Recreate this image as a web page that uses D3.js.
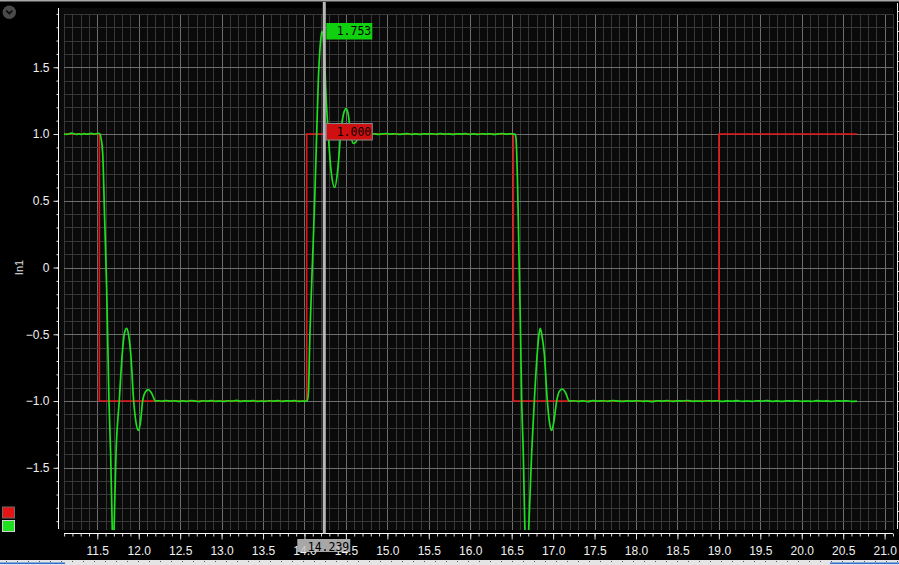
<!DOCTYPE html>
<html>
<head>
<meta charset="utf-8">
<script src="https://cdn.jsdelivr.net/npm/d3@7"></script>
<style>
  html, body { margin: 0; padding: 0; background: #000; overflow: hidden; }
  svg { display: block; }
  .tick text { font-family: "Liberation Sans", Arial, sans-serif; font-size: 12px; fill: #f0f0f0; }
  .mono { font-family: "DejaVu Sans Mono", monospace; font-size: 11.5px; fill: #000; }
</style>
</head>
<body>
<div id="chart"></div>
<script>
// input (red): square wave corners
const inputSteps = [[11.098, 1], [11.525, -1], [14.027, 1], [16.52, -1], [19.0, 1], [20.666, 1]];

// output (green), one array per stretch
const outHigh1 = [[11.098, 1.000], [11.13, 0.998], [11.16, 1.002], [11.19, 1.007], [11.22, 1.002], [11.25, 0.998],
  [11.28, 1.001], [11.31, 0.998], [11.34, 1.003], [11.37, 0.999], [11.40, 1.001], [11.43, 1.005], [11.46, 1.000],
  [11.49, 1.002], [11.515, 1.006], [11.533, 1.0]];
const outFall1 = [[11.545, 0.97], [11.565, 0.86], [11.589, 0.36], [11.613, -0.15], [11.641, -1.0], [11.661, -1.39],
  [11.681, -1.97], [11.692, -2.25], [11.701, -1.99], [11.726, -1.39], [11.765, -1.0], [11.802, -0.64], [11.828, -0.49],
  [11.855, -0.455], [11.879, -0.51], [11.903, -0.64], [11.939, -1.0], [11.967, -1.16], [11.995, -1.22], [12.021, -1.16],
  [12.047, -1.0], [12.082, -0.93], [12.115, -0.915], [12.154, -0.94], [12.205, -1.0]];
const outLow1 = [[12.24, -0.998], [12.28, -1.002], [12.33, -0.996], [12.38, -1.001], [12.43, -0.998], [12.48, -1.003],
  [12.53, -0.999], [12.58, -1.002], [12.63, -0.997], [12.68, -1.000], [12.73, -1.004], [12.78, -0.998], [12.83, -1.001],
  [12.88, -0.997], [12.93, -1.002], [12.98, -1.000], [13.03, -1.003], [13.08, -0.998], [13.13, -1.001], [13.18, -0.995],
  [13.23, -1.002], [13.28, -0.999], [13.33, -1.001], [13.38, -0.997], [13.43, -1.003], [13.48, -1.000], [13.53, -1.002],
  [13.58, -0.998], [13.63, -1.001], [13.68, -0.997], [13.73, -1.002], [13.78, -0.999], [13.83, -1.000], [13.88, -0.997],
  [13.93, -1.003], [13.98, -1.000], [14.02, -1.0]];
const outRise = [[14.034, -1.0], [14.048, -0.93], [14.066, -0.49], [14.094, 0.0], [14.123, 0.5], [14.147, 1.0],
  [14.167, 1.40], [14.187, 1.64], [14.211, 1.77], [14.235, 1.66], [14.259, 1.30], [14.287, 1.0], [14.320, 0.73],
  [14.365, 0.60], [14.401, 0.73], [14.437, 1.0], [14.471, 1.15], [14.504, 1.19], [14.530, 1.14], [14.557, 1.0],
  [14.591, 0.93], [14.621, 0.94], [14.658, 0.99], [14.694, 1.0]];
const outHigh2 = [[14.74, 1.002], [14.79, 0.998], [14.84, 1.002], [14.89, 0.997], [14.94, 1.001], [14.99, 1.004],
  [15.04, 0.999], [15.09, 1.002], [15.14, 0.998], [15.19, 1.000], [15.24, 1.003], [15.29, 0.998], [15.34, 1.001],
  [15.39, 0.997], [15.44, 1.002], [15.49, 1.000], [15.54, 1.002], [15.59, 0.998], [15.64, 1.004], [15.69, 0.999],
  [15.74, 1.001], [15.79, 0.997], [15.84, 1.002], [15.89, 1.000], [15.94, 1.003], [15.99, 0.998], [16.04, 1.001],
  [16.09, 0.998], [16.14, 1.002], [16.19, 0.999], [16.24, 1.002], [16.29, 0.997], [16.34, 1.001], [16.39, 1.004],
  [16.44, 0.999], [16.49, 1.002], [16.52, 1.0]];
const outFall2 = [[16.540, 1.0], [16.552, 0.97], [16.572, 0.60], [16.588, 0.10], [16.604, -0.39], [16.621, -1.0],
  [16.640, -1.39], [16.660, -1.97], [16.684, -2.25], [16.705, -1.97], [16.741, -1.39], [16.773, -1.0], [16.809, -0.64],
  [16.829, -0.50], [16.845, -0.455], [16.865, -0.51], [16.893, -0.64], [16.930, -1.0], [16.954, -1.15], [16.983, -1.22],
  [17.010, -1.15], [17.043, -1.0], [17.074, -0.93], [17.110, -0.91], [17.152, -0.94], [17.195, -1.0]];
const outLow2 = [[17.24, -0.998], [17.30, -1.002], [17.36, -0.999], [17.42, -1.004], [17.48, -0.997], [17.54, -1.001],
  [17.60, -0.998], [17.66, -1.002], [17.72, -0.996], [17.78, -1.000], [17.84, -1.003], [17.90, -0.999], [17.96, -1.001],
  [18.02, -0.998], [18.08, -1.002], [18.14, -1.000], [18.20, -1.004], [18.26, -0.998], [18.32, -1.001], [18.38, -0.997],
  [18.44, -1.002], [18.50, -0.999], [18.56, -1.000], [18.62, -0.996], [18.68, -1.002], [18.74, -1.000], [18.80, -1.002],
  [18.86, -0.998], [18.92, -1.001], [18.98, -0.998], [19.04, -1.003], [19.10, -0.999], [19.16, -1.001], [19.22, -0.997],
  [19.28, -1.002], [19.34, -1.000], [19.40, -1.002], [19.46, -0.998], [19.52, -1.000], [19.58, -0.996], [19.64, -1.002],
  [19.70, -0.999], [19.76, -1.003], [19.82, -0.998], [19.88, -1.001], [19.94, -0.998], [20.00, -1.002], [20.06, -1.000],
  [20.12, -1.002], [20.18, -0.997], [20.24, -1.001], [20.30, -0.999], [20.36, -1.002], [20.42, -0.998], [20.48, -1.000],
  [20.54, -0.998], [20.60, -1.002], [20.666, -1.0]];

const xTickLabels = [11.5, 12.0, 12.5, 13.0, 13.5, 14.0, 14.5, 15.0, 15.5, 16.0, 16.5, 17.0, 17.5, 18.0, 18.5, 19.0, 19.5, 20.0, 20.5, 21.0];
const yTickLabels = [-1.5, -1.0, -0.5, 0, 0.5, 1.0, 1.5];
const seriesNames = ["In1 input", "In1 output"];
const seriesColors = ["#e41414", "#1ee01e"];

const cursorTime = 14.239;
const cursorText = "14.239";
const markerValues = [1.753, 1.000];
const markerTexts = ["1.753", "1.000"];
const markerFills = ["#10d010", "#d01010"];

const width = 899, height = 565;
const plot = { left: 58, right: 893, top: 8, bottom: 530 };

const x = d3.scaleLinear().domain([11.026, 21.101]).range([plot.left, plot.right]);
const y = d3.scaleLinear().domain([-1.966, 1.944]).range([plot.bottom, plot.top]);

const isMajor = v => Math.abs(v * 2 - Math.round(v * 2)) < 1e-6;
const xMinor = d3.range(111, 212).map(i => i / 10);
const yMinor = d3.range(-19, 20).map(i => i / 10);

const svg = (
  d3.select("#chart")
  .append("svg")
  .attr("width", width)
  .attr("height", height)
);

svg.append("rect").attr("width", width).attr("height", height).attr("fill", "#000");
svg.append("rect")
  .attr("x", plot.left).attr("y", plot.top)
  .attr("width", plot.right - plot.left).attr("height", plot.bottom - plot.top)
  .attr("fill", "#0a0a0a");

// top border
svg.append("rect").attr("width", width).attr("height", 1.5).attr("fill", "#a8a8a8");

// grid
const grid = svg.append("g").attr("shape-rendering", "crispEdges");
grid.selectAll("line.v")
  .data(xMinor)
  .join("line")
  .attr("class", "v")
  .attr("x1", d => Math.round(x(d)) + 0.5).attr("x2", d => Math.round(x(d)) + 0.5)
  .attr("y1", y(1.9)).attr("y2", plot.bottom)
  .attr("stroke", d => isMajor(d) ? "#6e6e6e" : "#383838");
grid.selectAll("line.h")
  .data(yMinor)
  .join("line")
  .attr("class", "h")
  .attr("y1", d => Math.round(y(d)) + 0.5).attr("y2", d => Math.round(y(d)) + 0.5)
  .attr("x1", x(11.1)).attr("x2", x(21.1))
  .attr("stroke", d => isMajor(d) ? "#6e6e6e" : "#383838");

// y axis
const yAxis = svg.append("g").attr("transform", `translate(${plot.left + 0.5},0)`);
yAxis.append("g")
  .call(d3.axisLeft(y).tickValues(yMinor).tickSize(2).tickFormat(""))
  .call(g => g.select(".domain").remove())
  .call(g => g.selectAll("line").attr("stroke", "#e0e0e0"));
yAxis.append("g")
  .call(d3.axisLeft(y).tickValues(yTickLabels).tickSize(5).tickPadding(4)
    .tickFormat(d => d === 0 ? "0" : d3.format(".1f")(d)))
  .call(g => g.select(".domain").remove())
  .call(g => g.selectAll("line").attr("stroke", "#e0e0e0"));
yAxis.append("line")
  .attr("y1", plot.top).attr("y2", plot.bottom - 1)
  .attr("stroke", "#fff");

svg.append("text")
  .attr("transform", `translate(23,${y(0)}) rotate(-90)`)
  .attr("text-anchor", "middle")
  .attr("font-family", "Liberation Sans, Arial, sans-serif")
  .attr("font-size", 11)
  .attr("fill", "#e0e0e0")
  .text("In1");

// x axis
const xAxisY = 533.5;
const xAxis = svg.append("g").attr("transform", `translate(0,${xAxisY})`);
xAxis.append("g")
  .call(d3.axisBottom(x).tickValues(xMinor).tickSize(3).tickFormat(""))
  .call(g => g.select(".domain").remove())
  .call(g => g.selectAll("line").attr("stroke", "#e0e0e0"));
xAxis.append("g")
  .call(d3.axisBottom(x).tickValues(xTickLabels).tickSize(6).tickPadding(7).tickFormat(d3.format(".1f")))
  .call(g => g.select(".domain").remove())
  .call(g => g.selectAll("line").attr("stroke", "#e0e0e0"));
xAxis.append("line")
  .attr("x1", x(11.1)).attr("x2", x(21.1))
  .attr("stroke", "#fff");

// cut-off second axis at the right edge
const y2 = d3.scaleLinear().domain([0, 52]).range([531, 11]);
svg.append("g")
  .attr("transform", "translate(897.5,0)")
  .call(d3.axisRight(y2).tickValues(d3.range(1, 53)).tickSize(3).tickFormat(""))
  .call(g => g.select(".domain").remove())
  .call(g => g.selectAll("line").attr("stroke", "#d8d8d8"));
svg.append("line")
  .attr("x1", 897.5).attr("x2", 897.5).attr("y1", 3).attr("y2", 529)
  .attr("stroke", "#e8e8e8");

// series
svg.append("clipPath").attr("id", "clip")
  .append("rect")
  .attr("x", plot.left).attr("y", plot.top)
  .attr("width", plot.right - plot.left).attr("height", plot.bottom - plot.top);

const outputTrace = [].concat(outHigh1, outFall1, outLow1, outRise, outHigh2, outFall2, outLow2);
const series = svg.append("g").attr("clip-path", "url(#clip)").attr("fill", "none");

series.append("path")
  .datum(inputSteps)
  .attr("stroke", seriesColors[0])
  .attr("stroke-width", 1.6)
  .attr("d", d3.line().x(d => x(d[0])).y(d => y(d[1])).curve(d3.curveStepAfter));

series.append("path")
  .datum(outputTrace)
  .attr("stroke", seriesColors[1])
  .attr("stroke-width", 1.7)
  .attr("stroke-linejoin", "round")
  .attr("d", d3.line().x(d => x(d[0])).y(d => y(d[1])).curve(d3.curveMonotoneX));

// cursor
const cx = x(cursorTime);
svg.append("line")
  .attr("x1", cx).attr("x2", cx).attr("y1", 2).attr("y2", xAxisY)
  .attr("stroke", "#b8b8b8")
  .attr("stroke-width", 3);

const markers = svg.append("g")
  .selectAll("g")
  .data(markerValues)
  .join("g")
  .attr("transform", d => `translate(${cx + 2},${y(d)})`);
markers.append("rect")
  .attr("x", 0).attr("y", -10.5)
  .attr("width", 46).attr("height", 16.5)
  .attr("fill", (d, i) => markerFills[i])
  .attr("stroke", (d, i) => i === 1 ? "#8a8a8a" : "none");
markers.append("text")
  .attr("class", "mono")
  .attr("x", 45).attr("y", 2)
  .attr("text-anchor", "end")
  .text((d, i) => markerTexts[i]);

const cursorTag = svg.append("g");
cursorTag.append("rect")
  .attr("x", cx - 27).attr("y", 539)
  .attr("width", 53).attr("height", 13)
  .attr("fill", "#c4c4c4")
  .attr("opacity", 0.85);
cursorTag.append("text")
  .attr("class", "mono")
  .attr("x", cx + 25).attr("y", 551)
  .attr("text-anchor", "end")
  .text(cursorText);

// legend swatches
svg.append("g")
  .selectAll("rect")
  .data(seriesNames)
  .join("rect")
  .attr("x", 2.5).attr("y", (d, i) => 507 + i * 13.5)
  .attr("width", 12).attr("height", 11)
  .attr("fill", (d, i) => seriesColors[i])
  .attr("stroke", (d, i) => i === 0 ? "#6a6a6a" : "#cfcfcf");

// menu button
const btn = svg.append("g").attr("transform", "translate(9.3,12.2)");
btn.append("circle").attr("r", 6.7).attr("fill", "#4a4a4a");
btn.append("path")
  .attr("d", "M-3,-1.6 L0,1.4 L3,-1.6")
  .attr("fill", "none")
  .attr("stroke", "#0c0c0c")
  .attr("stroke-width", 1.8);

// scroll strip at the bottom
svg.append("rect").attr("y", 560).attr("width", width).attr("height", 5).attr("fill", "#e4e4e4");
svg.append("g")
  .selectAll("rect")
  .data(d3.range(0, width, 11))
  .join("rect")
  .attr("x", d => d + 6).attr("y", 561)
  .attr("width", 1).attr("height", 1)
  .attr("fill", "#555");
svg.append("rect").attr("x", 0).attr("y", 562.5).attr("width", 65).attr("height", 1.5).attr("fill", "#2f6fd0");
svg.append("rect").attr("x", 830).attr("y", 562.5).attr("width", 69).attr("height", 1.5).attr("fill", "#2f6fd0");
</script>
</body>
</html>
